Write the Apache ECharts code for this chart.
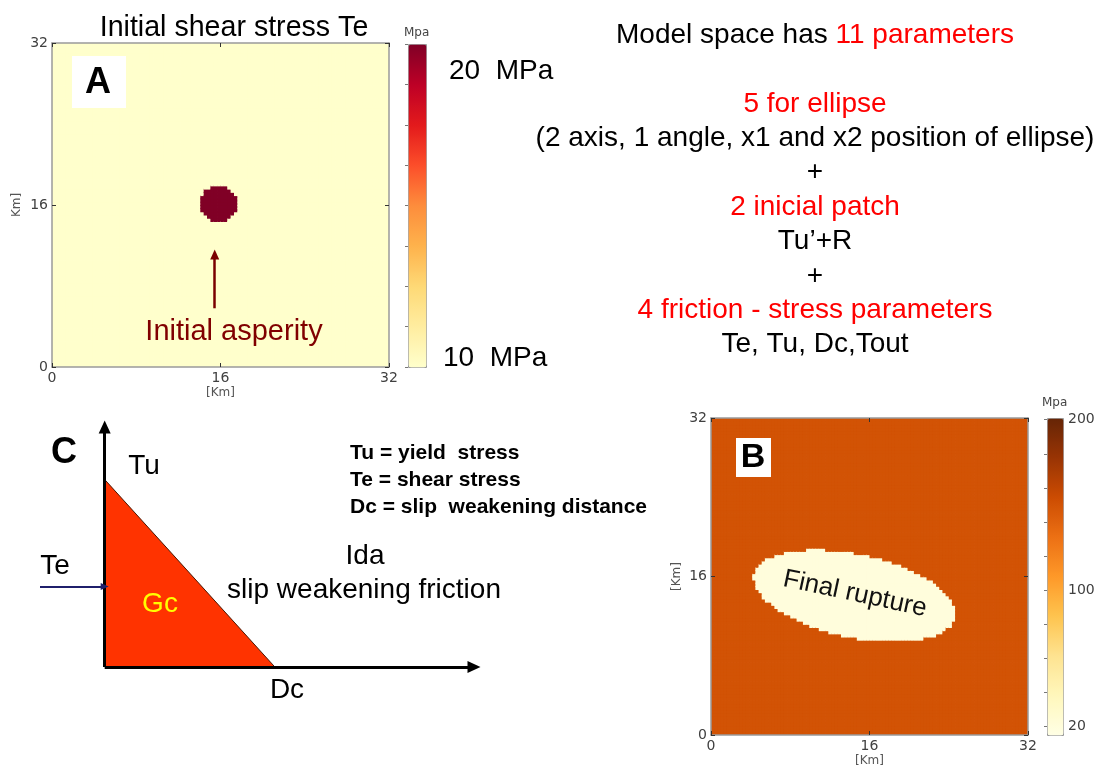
<!DOCTYPE html>
<html>
<head>
<meta charset="utf-8">
<title>Model space</title>
<script src="https://cdn.jsdelivr.net/npm/echarts@6/dist/echarts.min.js"></script>
<style>
  html, body { margin: 0; padding: 0; background: #fff; }
  #chart { width: 1107px; height: 772px; }
</style>
</head>
<body>
<div id="chart"></div>
<script>
// fault plane in km
const faultTicksKm = [0, 16, 32];
const cellKm = 0.32;

// panel A: initial shear stress Te (MPa)
const teRange = [10, 20];
const teLevels = [10, 20];              // background, asperity
const asperity = [15.8, 16.2, 1.8];     // x1, x2, radius (km)
const asperityPointer = [15.45, 5.8, 11.1]; // x, from y, to y (km)

// panel B: final rupture (MPa)
const ruptureRange = [15, 201];
const ruptureLevels = [150, 20];        // outside, inside the ellipse
const ruptureEllipse = [14.5, 14.1, 10.4, 4.2, -12]; // x1, x2, axis a, axis b, angle (deg)
const ruptureBarLabels = [20, 100, 200];
const ruptureBarTicks = [20, 40, 60, 80, 100, 120, 140, 160, 180, 200];

// panel C: slip weakening law (schematic)
const slipWeakening = [[0, 1], [1, 0]]; // [slip, stress]: Tu at zero slip, 0 at Dc
const teLevelC = 0.43;
const slipAxis = [-0.38, 2.17];
const stressAxis = [0, 1.28];

const noteLines = [
  '{k|Model space has }{r|11 parameters}',
  '',
  '{r|5 for ellipse}',
  '{k|(2 axis, 1 angle, x1 and x2 position of ellipse)}',
  '{k|+}',
  '{r|2 inicial patch}',
  '{k|Tu\u2019+R}',
  '{k|+}',
  '{r|4 friction - stress parameters}',
  '{k|Te, Tu, Dc,Tout}'
];

const legendLines = ['Tu = yield  stress', 'Te = shear stress', 'Dc = slip  weakening distance'];

const ylOrRd = ['#ffffcc', '#ffeda0', '#fed976', '#feb24c', '#fd8d3c', '#fc4e2a', '#e31a1c', '#bd0026', '#800026'];
const ylOrBr = ['#ffffe5', '#fff7bc', '#fee391', '#fec44f', '#fe9929', '#ec7014', '#cc4c02', '#993404', '#662506'];

const SANS = 'Liberation Sans, Arial, sans-serif';
const TICK_FONT = 'DejaVu Sans, sans-serif';

const nCells = Math.round(32 / cellKm);

function rasterize(inside, inVal, outVal) {
  const out = [];
  for (let i = 0; i < nCells; i++) {
    for (let j = 0; j < nCells; j++) {
      const x = (i + 0.5) * cellKm;
      const y = (j + 0.5) * cellKm;
      out.push([x, y, inside(x, y) ? inVal : outVal]);
    }
  }
  return out;
}

const dataA = rasterize((x, y) => {
  const dx = x - asperity[0], dy = y - asperity[1];
  return dx * dx + dy * dy <= asperity[2] * asperity[2];
}, teLevels[1], teLevels[0]);

const dataB = rasterize((x, y) => {
  const [cx, cy, a, b, deg] = ruptureEllipse;
  const t = deg * Math.PI / 180;
  const dx = x - cx, dy = y - cy;
  const u = dx * Math.cos(t) + dy * Math.sin(t);
  const v = -dx * Math.sin(t) + dy * Math.cos(t);
  return (u / a) * (u / a) + (v / b) * (v / b) <= 1;
}, ruptureLevels[1], ruptureLevels[0]);

const myChart = echarts.init(document.getElementById('chart'));

// one raster cell, slightly oversized so neighbours leave no seams
function renderCell(params, api) {
  const x = api.value(0), y = api.value(1);
  const p = api.coord([x - cellKm / 2, y + cellKm / 2]);
  const s = api.size([cellKm, cellKm]);
  return {
    type: 'rect',
    shape: { x: p[0], y: p[1], width: s[0] + 0.8, height: s[1] + 0.8 },
    style: { fill: api.visual('color') }
  };
}

function frameAxis(grid, pos, showLabel, name, gap) {
  return {
    type: 'value',
    gridIndex: grid,
    position: pos,
    min: faultTicksKm[0],
    max: faultTicksKm[faultTicksKm.length - 1],
    interval: 16,
    z: 5,
    axisLine: { show: true, onZero: false, lineStyle: { color: '#9a9a9a', width: 1.5 } },
    axisTick: { show: true, inside: true, length: 4, lineStyle: { color: '#333' } },
    axisLabel: { show: showLabel, fontFamily: TICK_FONT, fontSize: 14, color: '#404040', margin: 4 },
    splitLine: { show: false },
    name: name || '',
    nameLocation: 'middle',
    nameGap: gap || 20,
    nameRotate: (pos === 'left') ? 90 : 0,
    nameTextStyle: { fontFamily: TICK_FONT, fontSize: 12, color: '#555' }
  };
}

function hiddenAxis(grid) {
  return { type: 'value', gridIndex: grid, show: false, min: 0, max: 1 };
}

const txt = (text, x, y, size, opts) => Object.assign({
  type: 'text', x: x, y: y, z: 100, silent: true,
  style: Object.assign({
    text: text, fill: '#000', fontFamily: SANS, fontSize: size,
    align: 'center', verticalAlign: 'middle'
  }, (opts && opts.style) || {})
}, (opts && opts.el) || {});

const graphics = [
  txt('Initial shear stress Te', 234, 28, 28.6),
  { type: 'rect', z: 99, silent: true, shape: { x: 72, y: 56, width: 54, height: 52 }, style: { fill: '#fff' } },
  txt('A', 98, 83, 36, { style: { fontWeight: 'bold' } }),
  txt('Mpa', 404, 33, 12, { style: { align: 'left', fontFamily: TICK_FONT, fill: '#444' } }),
  txt('20  MPa', 449, 71, 28, { style: { align: 'left' } }),
  txt('10  MPa', 443, 358, 28, { style: { align: 'left' } }),
  txt('Initial asperity', 234, 332, 29, { style: { fill: '#800000' } }),

  { type: 'rect', z: 99, silent: true, shape: { x: 736, y: 438, width: 35, height: 39 }, style: { fill: '#fff' } },
  txt('B', 753, 458, 34, { style: { fontWeight: 'bold' } }),
  txt('Mpa', 1042, 403, 12, { style: { align: 'left', fontFamily: TICK_FONT, fill: '#444' } }),
  txt('Final rupture', 855, 594, 26, { style: { fill: '#111' }, el: { rotation: -12 * Math.PI / 180 } }),

  txt('C', 64, 453, 36, { style: { fontWeight: 'bold' } }),
  txt('Tu', 144, 466, 28),
  txt('Te', 55, 566, 28),
  txt('Gc', 160, 604, 28, { style: { fill: '#ffff00' } }),
  txt('Dc', 287, 690, 28),
  txt('Ida', 365, 556, 28),
  txt('slip weakening friction', 364, 590, 28)
];

legendLines.forEach((s, i) => {
  graphics.push(txt(s, 350, 453 + i * 27, 21, { style: { align: 'left', fontWeight: 'bold' } }));
});

noteLines.forEach((s, i) => {
  if (!s) return;
  graphics.push(txt(s, 815, 35 + i * 34.4, 28, {
    style: { rich: { k: { fill: '#000' }, r: { fill: '#ff0000' } } }
  }));
});

const option = {
  animation: false,
  backgroundColor: '#fff',
  grid: [
    { left: 52, top: 43, width: 337, height: 324, outerBoundsMode: 'none' },
    { left: 711, top: 418, width: 317, height: 317, outerBoundsMode: 'none' },
    { left: 408, top: 44, width: 18, height: 323, outerBoundsMode: 'none' },
    { left: 1047, top: 418, width: 16, height: 317, outerBoundsMode: 'none' },
    { left: 40, top: 427, width: 434, height: 240, outerBoundsMode: 'none' }
  ],
  xAxis: [
    frameAxis(0, 'bottom', true, '[Km]', 20),
    frameAxis(0, 'top', false),
    frameAxis(1, 'bottom', true, '[Km]', 20),
    frameAxis(1, 'top', false),
    hiddenAxis(2),
    hiddenAxis(3),
    { type: 'value', gridIndex: 4, show: false, min: slipAxis[0], max: slipAxis[1] }
  ],
  yAxis: [
    frameAxis(0, 'left', true, 'Km]', 29),
    frameAxis(0, 'right', false),
    frameAxis(1, 'left', true, '[Km]', 28),
    frameAxis(1, 'right', false),
    {
      type: 'value', gridIndex: 2, position: 'right', min: teRange[0], max: teRange[1], interval: 1.25, z: 10,
      axisLine: { show: false },
      axisTick: { show: true, inside: true, length: 3, lineStyle: { color: '#777' } },
      axisLabel: { show: false },
      splitLine: { show: false }
    },
    {
      type: 'value', gridIndex: 3, position: 'right', min: ruptureRange[0], max: ruptureRange[1], z: 10,
      axisLine: { show: false },
      axisTick: { show: true, inside: true, length: 3, customValues: ruptureBarTicks, lineStyle: { color: '#777' } },
      axisLabel: { show: true, customValues: ruptureBarLabels, fontFamily: TICK_FONT, fontSize: 14, color: '#404040', margin: 5 },
      splitLine: { show: false }
    },
    { type: 'value', gridIndex: 4, show: false, min: stressAxis[0], max: stressAxis[1] }
  ],
  visualMap: [
    {
      type: 'continuous', seriesIndex: 0, dimension: 2, min: teRange[0], max: teRange[1],
      orient: 'vertical', left: 408, top: 44, itemWidth: 18, itemHeight: 323, padding: 0,
      calculable: false, hoverLink: false,
      borderColor: '#999', borderWidth: 1,
      inRange: { color: ylOrRd }
    },
    {
      type: 'continuous', seriesIndex: 1, dimension: 2, min: ruptureRange[0], max: ruptureRange[1],
      orient: 'vertical', left: 1047, top: 418, itemWidth: 16, itemHeight: 317, padding: 0,
      calculable: false, hoverLink: false,
      borderColor: '#999', borderWidth: 1,
      inRange: { color: ylOrBr }
    }
  ],
  graphic: graphics,
  series: [
    {
      type: 'custom', xAxisIndex: 0, yAxisIndex: 0, data: dataA,
      encode: { x: 0, y: 1 }, renderItem: renderCell,
      progressive: 0, silent: true, clip: true
    },
    {
      type: 'custom', xAxisIndex: 2, yAxisIndex: 2, data: dataB,
      encode: { x: 0, y: 1 }, renderItem: renderCell,
      progressive: 0, silent: true, clip: true
    },
    {
      type: 'line', xAxisIndex: 0, yAxisIndex: 0, data: [], clip: false, silent: true,
      markLine: {
        silent: true, symbol: ['none', 'triangle'], symbolSize: [9, 10],
        label: { show: false },
        lineStyle: { color: '#7a0000', width: 2.5, type: 'solid' },
        data: [[
          { coord: [asperityPointer[0], asperityPointer[1]] },
          { coord: [asperityPointer[0], asperityPointer[2]] }
        ]]
      }
    },
    {
      type: 'line', xAxisIndex: 6, yAxisIndex: 6, data: slipWeakening,
      symbol: 'none', clip: false, silent: true,
      lineStyle: { color: '#4a1500', width: 1 },
      areaStyle: { color: '#ff3300', opacity: 1 },
      z: 3,
      markLine: {
        silent: true, symbol: ['none', 'triangle'], symbolSize: [12, 13],
        label: { show: false },
        lineStyle: { color: '#000', width: 3, type: 'solid' },
        data: [
          [{ coord: [0, 0] }, { coord: [slipAxis[1], 0] }],
          [{ coord: [0, 0] }, { coord: [0, stressAxis[1]] }]
        ]
      }
    },
    {
      type: 'line', xAxisIndex: 6, yAxisIndex: 6, data: [], clip: false, silent: true,
      markLine: {
        silent: true, symbol: ['none', 'triangle'], symbolSize: [7, 8],
        label: { show: false },
        lineStyle: { color: '#1f1f6b', width: 2, type: 'solid' },
        data: [[{ coord: [slipAxis[0], teLevelC] }, { coord: [0, teLevelC] }]]
      }
    }
  ]
};

myChart.setOption(option, true);

window.addEventListener('resize', () => {
  myChart.resize();
});
</script>
</body>
</html>
